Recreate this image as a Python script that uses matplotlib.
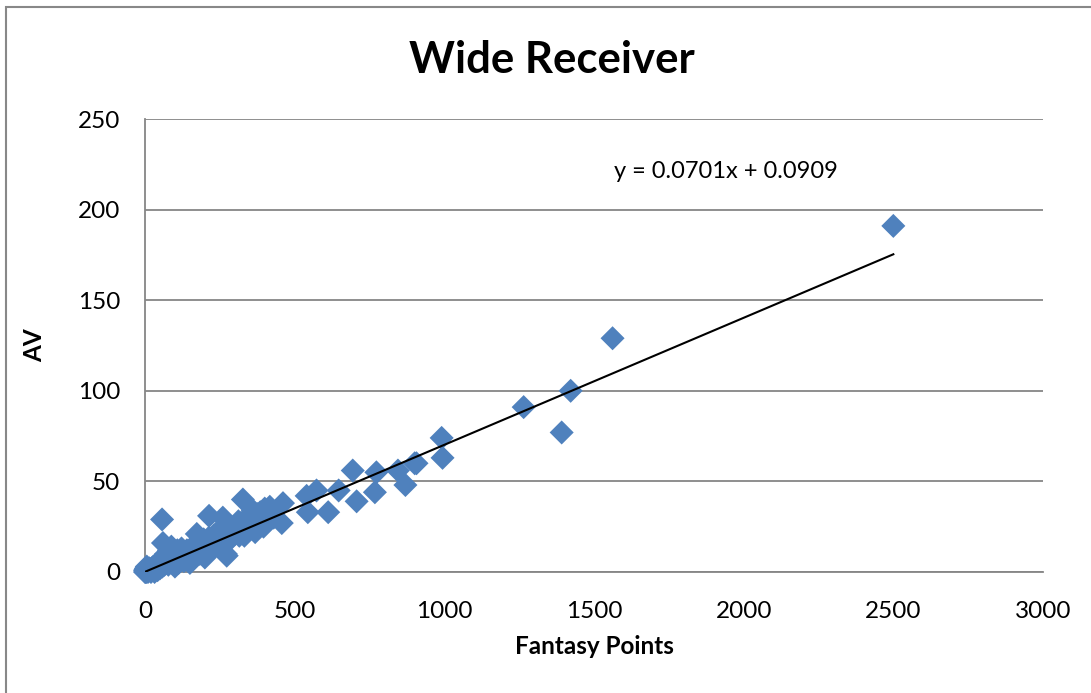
import matplotlib.pyplot as plt
import numpy as np
from matplotlib.patches import Rectangle

plt.rcParams['font.family'] = ['Lato', 'DejaVu Sans']

# career fantasy points vs approximate value
fantasy_points = [
    0, 0, 2, 5, 3, 8, 10, 12, 6, 15, 18, 20, 22, 25, 28, 30, 32, 35, 38, 40,
    42, 45, 48, 50, 52, 55, 58, 60, 62, 65, 68, 70, 72, 75, 78, 80, 82, 85, 88, 90,
    92, 95, 98, 100, 102, 105, 108, 110, 112, 115, 118, 120, 122, 125, 128, 130, 133, 136, 140, 143,
    146, 150, 153, 156, 160, 163, 166, 170, 173, 176, 180, 183, 186, 190, 193, 196, 200, 205, 210, 214,
    218, 222, 226, 230, 234, 238, 242, 246, 250, 255, 260, 264, 268, 272, 276, 280, 285, 290, 295, 300,
    305, 310, 315, 320, 325, 330, 335, 340, 345, 350, 355, 360, 365, 370, 375, 380, 385, 390, 400, 410,
    420, 430, 100, 150, 200, 270, 60, 173, 352, 368, 384, 396, 312, 332,
    57, 214, 260, 273, 327, 360, 417, 457, 461, 540, 544, 573, 612, 647, 694, 707,
    768, 773, 845, 870, 901, 907, 991, 994, 1265, 1392, 1422, 1562, 2500,
]
approx_value = [
    0, 1, 0, 0, 2, 1, 0, 1, 3, 2, 1, 0, 2, 1, 3, 2, 0, 4, 2, 3,
    1, 5, 3, 2, 4, 6, 3, 5, 8, 4, 6, 10, 5, 7, 4, 12, 6, 9, 14, 7,
    5, 11, 8, 6, 9, 7, 12, 8, 5, 10, 7, 9, 13, 8, 10, 6, 11, 8, 12, 9,
    7, 11, 13, 9, 12, 10, 14, 11, 13, 15, 12, 10, 14, 16, 13, 18, 14, 12, 16, 19,
    15, 17, 13, 20, 16, 18, 22, 17, 19, 15, 21, 18, 24, 20, 17, 22, 25, 19, 23, 21,
    26, 24, 20, 27, 23, 25, 29, 22, 27, 30, 25, 31, 28, 26, 32, 29, 33, 30, 35, 32,
    34, 30, 3, 5, 8, 10, 16, 21, 24, 22, 27, 25, 28, 20,
    29, 31, 30, 9, 40, 34, 36, 27, 38, 42, 33, 45, 33, 45, 56, 39,
    44, 55, 56, 48, 60, 60, 74, 63, 91, 77, 100, 129, 191,
]
slope = 0.0701
intercept = 0.0909

x_ticks = [0, 500, 1000, 1500, 2000, 2500, 3000]
y_ticks = [0, 50, 100, 150, 200, 250]

fig = plt.figure(figsize=(10.91, 6.93), dpi=100)
ax = fig.add_axes([145 / 1091, 1 - 572 / 693, 898 / 1091, 453 / 693])

grid_color = '#868686'
ax.set_xlim(0, 3000)
ax.set_ylim(0, 250)
ax.set_yticks(y_ticks)
ax.set_xticks(x_ticks)
ax.yaxis.grid(True, color=grid_color, linewidth=1.3)
ax.set_axisbelow(True)
for side in ['top', 'right']:
    ax.spines[side].set_visible(False)
for side in ['left', 'bottom']:
    ax.spines[side].set_color(grid_color)
    ax.spines[side].set_linewidth(1.3)
ax.tick_params(axis='both', length=0, labelsize=17.5, colors='black')
ax.tick_params(axis='y', pad=18)
ax.tick_params(axis='x', pad=21)

ax.scatter(fantasy_points, approx_value, marker='D', s=150, color='#4F81BD',
           edgecolors='none', zorder=3, clip_on=False)

trend_x = np.array([0, max(fantasy_points)])
ax.plot(trend_x, slope * trend_x + intercept, color='black', linewidth=1.5, zorder=4)

fig.text(552 / 1091, 1 - 60 / 693, 'Wide Receiver', ha='center', va='center',
         fontsize=31.5, fontweight='bold')
fig.text(594 / 1091, 1 - 647 / 693, 'Fantasy Points', ha='center', va='center',
         fontsize=17.5, fontweight='bold')
fig.text(35 / 1091, 1 - 345 / 693, 'AV', ha='center', va='center', rotation=90,
         fontsize=17.5, fontweight='bold')
fig.text(726 / 1091, 1 - 172 / 693, 'y = 0.0701x + 0.0909', ha='center', va='center',
         fontsize=17)

fig.patches.append(Rectangle((6 / 1091, -0.1), 1.2, 1.1 - 7 / 693,
                             transform=fig.transFigure, fill=False,
                             edgecolor='#888888', linewidth=1.5))

fig.savefig('out.png', dpi=100)
